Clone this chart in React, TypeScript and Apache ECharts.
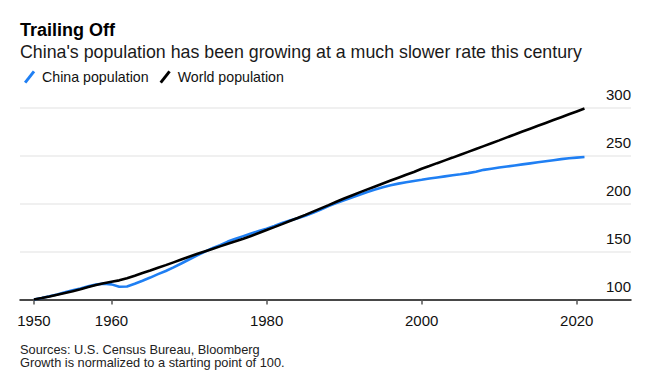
import React, { useEffect, useRef } from "react";
import * as echarts from "echarts";

const years: number[] = Array.from({ length: 72 }, (_, i) => 1950 + i);

const chinaPopulation: number[] = [
  100.0, 101.6, 103.4, 105.3, 107.5, 109.6, 111.6, 113.7, 115.6, 116.6,
  115.8, 113.3, 113.6, 116.4, 119.6, 122.9, 126.5, 129.8, 133.6, 137.6,
  141.8, 145.9, 149.8, 153.5, 156.8, 160.5, 163.4, 166.2, 169.0, 171.5,
  174.0, 176.9, 179.9, 182.4, 184.9, 187.5, 190.5, 194.0, 197.5, 200.7,
  203.7, 206.6, 209.5, 212.3, 214.8, 217.2, 219.4, 221.0, 222.5, 223.8,
  225.0, 226.3, 227.5, 228.6, 229.7, 230.8, 232.0, 233.5, 235.4, 236.6,
  237.8, 238.9, 240.0, 241.1, 242.2, 243.3, 244.4, 245.5, 246.6, 247.6,
  248.2, 248.8,
];

const worldPopulation: number[] = [
  100.0, 101.5, 103.1, 104.9, 106.7, 108.7, 110.8, 113.0, 115.2, 117.0,
  118.5, 120.0, 122.1, 124.8, 127.6, 130.3, 133.2, 135.9, 138.8, 141.7,
  144.6, 147.5, 150.2, 152.8, 155.5, 158.2, 160.8, 163.5, 166.4, 169.4,
  172.6, 175.6, 178.7, 181.9, 185.1, 188.4, 191.8, 195.2, 198.6, 202.1,
  205.5, 208.7, 211.9, 215.0, 218.1, 221.2, 224.2, 227.2, 230.2, 233.1,
  236.5, 239.4, 242.4, 245.3, 248.2, 251.2, 254.2, 257.2, 260.2, 263.2,
  266.2, 269.3, 272.3, 275.4, 278.4, 281.4, 284.4, 287.4, 290.4, 293.4,
  296.4, 299.4,
];

const xTickYears: number[] = [1950, 1960, 1980, 2000, 2020];
const yTicks: number[] = [100, 150, 200, 250, 300];

const titleText = "Trailing Off";
const subtitleText = "China's population has been growing at a much slower rate this century";
const sourceLines: string[] = [
  "Sources: U.S. Census Bureau, Bloomberg",
  "Growth is normalized to a starting point of 100.",
];
const seriesNames: string[] = ["China population", "World population"];

const FONT = "'Liberation Sans', Arial, Helvetica, sans-serif";
const slashIcon = "path://M0,12 L9.5,0 L12,2 L2.5,14 Z";

export default function App() {
  const ref = useRef<HTMLDivElement>(null);

  useEffect(() => {
    if (!ref.current) return;
    const chart = echarts.init(ref.current, undefined, { renderer: "svg" });
    const chinaData = years.map((y, i) => [y, chinaPopulation[i]]);
    const worldData = years.map((y, i) => [y, worldPopulation[i]]);

    chart.setOption({
      animation: false,
      backgroundColor: "#ffffff",
      textStyle: { fontFamily: FONT },
      graphic: [
        {
          type: "text",
          x: 20,
          y: 30,
          style: {
            text: titleText,
            fontFamily: FONT,
            fontSize: 18,
            fontWeight: "bold",
            fill: "#000",
            verticalAlign: "middle",
          },
        },
        {
          type: "text",
          x: 20,
          y: 51.5,
          style: {
            text: subtitleText,
            fontFamily: FONT,
            fontSize: 17.8,
            fill: "#1a1a1a",
            verticalAlign: "middle",
          },
        },
        {
          type: "text",
          x: 20,
          y: 349,
          style: {
            text: sourceLines[0],
            fontFamily: FONT,
            fontSize: 12.8,
            fill: "#222",
            verticalAlign: "middle",
          },
        },
        {
          type: "text",
          x: 20,
          y: 362.8,
          style: {
            text: sourceLines[1],
            fontFamily: FONT,
            fontSize: 12.8,
            fill: "#222",
            verticalAlign: "middle",
          },
        },
      ],
      legend: {
        left: 19,
        top: 65,
        itemWidth: 13,
        itemHeight: 13,
        itemGap: 11,
        icon: slashIcon,
        textStyle: { fontFamily: FONT, fontSize: 14.2, color: "#111", padding: [0, 0, 0, 1] },
        data: seriesNames,
      },
      grid: { left: 20, right: 29, top: 108, bottom: 88.5 },
      xAxis: {
        type: "value",
        min: 1948.2,
        max: 2027,
        splitLine: { show: false },
        axisLine: { show: true, onZero: false, lineStyle: { color: "#111", width: 1.5 } },
        axisTick: {
          show: true,
          customValues: xTickYears,
          length: 5,
          lineStyle: { color: "#555", width: 1.5 },
        },
        axisLabel: {
          customValues: xTickYears,
          formatter: (v: number) => String(v),
          fontFamily: FONT,
          fontSize: 15,
          color: "#111",
          verticalAlign: "middle",
          margin: 21,
        },
      },
      yAxis: {
        type: "value",
        position: "right",
        min: 100,
        max: 300,
        interval: 50,
        axisLine: { show: false },
        axisTick: { show: false },
        splitLine: { show: true, lineStyle: { color: "#ebebeb", width: 1.5 } },
        axisLabel: {
          inside: true,
          margin: 0,
          showMinLabel: true,
          showMaxLabel: true,
          fontFamily: FONT,
          fontSize: 15,
          color: "#111",
          align: "right",
          verticalAlign: "bottom",
          lineHeight: 27,
          formatter: (v: number) => (yTicks.includes(v) ? String(v) : ""),
        },
      },
      series: [
        {
          name: seriesNames[0],
          type: "line",
          data: chinaData,
          showSymbol: false,
          symbol: "none",
          color: "#1f7ff3",
          lineStyle: { color: "#1f7ff3", width: 2.6 },
          z: 2,
        },
        {
          name: seriesNames[1],
          type: "line",
          data: worldData,
          showSymbol: false,
          symbol: "none",
          color: "#000000",
          lineStyle: { color: "#000000", width: 2.6 },
          z: 3,
        },
      ],
    });
    return () => chart.dispose();
  }, []);

  return (
    <div
      ref={ref}
      style={{ position: "fixed", left: 0, top: 0, width: 660, height: 388, background: "#fff" }}
    />
  );
}
